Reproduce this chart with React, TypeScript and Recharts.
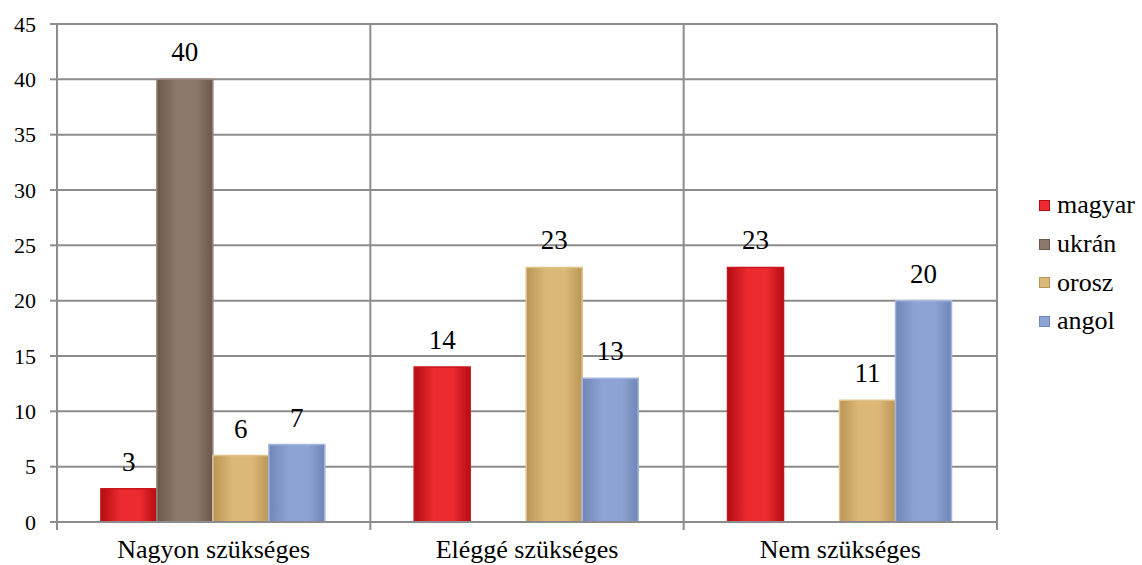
import type { JSX } from "react";
import { Bar, BarChart, CartesianGrid, LabelList, XAxis, YAxis } from "recharts";

const categories = ["Nagyon szükséges", "Eléggé szükséges", "Nem szükséges"];
const magyar = [3, 14, 23];
const ukran = [40, 0, 0];
const orosz = [6, 23, 11];
const angol = [7, 13, 20];
const yTicks = [0, 5, 10, 15, 20, 25, 30, 35, 40, 45];

const series = [
  { key: "magyar", name: "magyar", light: "#ec2a30", dark: "#b40c12", stroke: "#c8161c" },
  { key: "ukran", name: "ukrán", light: "#8d786c", dark: "#6b574d", stroke: "#9b877b" },
  { key: "orosz", name: "orosz", light: "#dcb877", dark: "#b99557", stroke: "#e0c389" },
  { key: "angol", name: "angol", light: "#8da3d3", dark: "#6f86b8", stroke: "#a5b6dc" },
];

const rows = categories.map((name, i) => ({
  name,
  magyar: magyar[i],
  ukran: ukran[i],
  orosz: orosz[i],
  angol: angol[i],
}));

const FONT = "'Liberation Serif', 'Times New Roman', serif";
const GRID = "#8c8c8c";

// category label, plus tick marks on the band edges
function CatTick(props: any): JSX.Element {
  const { x, y, payload, index } = props;
  const half = payload.offset ?? 0;
  return (
    <g>
      <line x1={x - half} x2={x - half} y1={y} y2={y + 8} stroke={GRID} strokeWidth={2} />
      {index === categories.length - 1 && (
        <line x1={x + half} x2={x + half} y1={y} y2={y + 8} stroke={GRID} strokeWidth={2} />
      )}
      <text x={x} y={y + 36} textAnchor="middle" style={{ fontSize: 26, fontFamily: FONT }} fill="#000">
        {payload.value}
      </text>
    </g>
  );
}

function gridX({ offset }: any): number[] {
  return categories
    .map((_, i) => offset.left + (offset.width * i) / categories.length)
    .concat(offset.left + offset.width);
}

export default function App(): JSX.Element {
  return (
    <div style={{ position: "absolute", left: 0, top: 0, width: 1142, height: 565, background: "#fff" }}>
      <BarChart
        width={1142}
        height={565}
        data={rows}
        margin={{ top: 24, right: 145, bottom: 0, left: 0 }}
        barCategoryGap="14%"
        barGap={0}
      >
        <defs>
          {series.map((s) => (
            <linearGradient key={s.key} id={`g-${s.key}`} x1="0" y1="0" x2="1" y2="0">
              <stop offset="0%" stopColor={s.dark} />
              <stop offset="35%" stopColor={s.light} />
              <stop offset="70%" stopColor={s.light} />
              <stop offset="100%" stopColor={s.dark} />
            </linearGradient>
          ))}
        </defs>
        <CartesianGrid stroke={GRID} strokeWidth={2} verticalCoordinatesGenerator={gridX} />
        <XAxis
          dataKey="name"
          height={43}
          interval={0}
          tickSize={0}
          tickMargin={0}
          tickLine={false}
          axisLine={{ stroke: GRID, strokeWidth: 2 }}
          tick={<CatTick />}
        />
        <YAxis
          domain={[0, 45]}
          ticks={yTicks}
          width={57}
          tickSize={7}
          tickMargin={14}
          interval={0}
          tickLine={{ stroke: GRID, strokeWidth: 2 }}
          axisLine={{ stroke: GRID, strokeWidth: 2 }}
          tick={{ fontSize: 22, fontFamily: FONT, fill: "#000" }}
        />
        {series.map((s) => (
          <Bar
            key={s.key}
            dataKey={s.key}
            name={s.name}
            fill={`url(#g-${s.key})`}
            stroke={s.stroke}
            strokeWidth={1.5}
            isAnimationActive={false}
          >
            <LabelList
              dataKey={s.key}
              position="top"
              offset={18}
              style={{ fontSize: 27, fontFamily: FONT, fill: "#000" }}
            />
          </Bar>
        ))}
      </BarChart>
      <div style={{ position: "absolute", left: 1039, top: 186, fontFamily: FONT, fontSize: 26 }}>
        {series.map((s) => (
          <div key={s.key} style={{ display: "flex", alignItems: "center", height: 38.7, whiteSpace: "nowrap" }}>
            <span
              style={{
                display: "inline-block",
                width: 11,
                height: 11,
                marginRight: 7,
                background: s.light,
                border: `1px solid ${s.dark}`,
                boxSizing: "border-box",
              }}
            />
            <span>{s.name}</span>
          </div>
        ))}
      </div>
    </div>
  );
}
